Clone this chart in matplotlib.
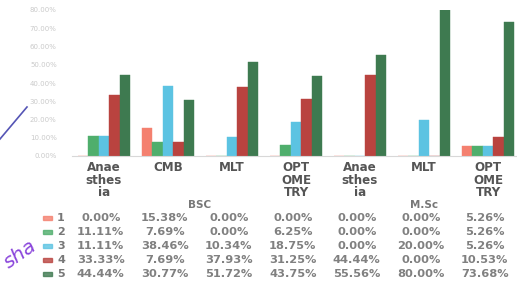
import numpy as np
import matplotlib
matplotlib.use("Agg")
from matplotlib import pyplot as plt
from matplotlib.transforms import blended_transform_factory

# chart data
courses = ["Anae\nsthes\nia", "CMB", "MLT", "OPT\nOME\nTRY", "Anae\nsthes\nia", "MLT", "OPT\nOME\nTRY"]
groups = ["BSC", "M.Sc"]
group_span = [(0, 3), (4, 6)]
series = ["1", "2", "3", "4", "5"]
s1 = [0.00, 15.38, 0.00, 0.00, 0.00, 0.00, 5.26]
s2 = [11.11, 7.69, 0.00, 6.25, 0.00, 0.00, 5.26]
s3 = [11.11, 38.46, 10.34, 18.75, 0.00, 20.00, 5.26]
s4 = [33.33, 7.69, 37.93, 31.25, 44.44, 0.00, 10.53]
s5 = [44.44, 30.77, 51.72, 43.75, 55.56, 80.00, 73.68]
colors = ["#f4806f", "#4fae6c", "#5cc3e2", "#b9433f", "#3e7a50"]

W, H = 517, 284
fig = plt.figure(figsize=(W / 100, H / 100), dpi=100)
fig.patch.set_facecolor("white")

# axes placed in pixel terms: x 72..520, y 10..156
ax = fig.add_axes([72 / W, (H - 156) / H, 448 / W, 146 / H])
x = np.arange(len(courses))
bw = 0.165
data = [s1, s2, s3, s4, s5]
for i, vals in enumerate(data):
    ax.bar(x + (i - 2) * bw, vals, bw, color=colors[i], edgecolor=colors[i], linewidth=0.3)

ax.set_xlim(-0.5, len(courses) - 0.5)
ax.set_ylim(0, 80)
ax.set_yticks(np.arange(0, 81, 10))
ax.set_yticklabels(["%.2f%%" % v for v in np.arange(0, 81, 10)], fontsize=5, color="#cacaca")
ax.tick_params(axis="y", length=0, pad=11)
ax.set_xticks([])
for sp in ["top", "right", "left"]:
    ax.spines[sp].set_visible(False)
ax.spines["bottom"].set_color("#d8d8d8")
ax.spines["bottom"].set_linewidth(0.8)

tr = blended_transform_factory(ax.transData, fig.transFigure)
def fy(py):
    return 1 - py / H

# category labels
for i, lab in enumerate(courses):
    ax.text(i, fy(161), lab, transform=tr, ha="center", va="top", fontsize=8.6,
            fontweight="bold", color="#555555", linespacing=0.95)

# group labels
for g, (a, b) in zip(groups, group_span):
    ax.text((a + b) / 2, fy(205), g, transform=tr, ha="center", va="center",
            fontsize=7.5, fontweight="bold", color="#777777")

# data table rows
row_y = [218, 232, 246, 260, 274]
for i, vals in enumerate(data):
    yy = fy(row_y[i])
    fig.patches.append(plt.Rectangle((43 / W, yy - 1.6 / H), 9 / W, 3.2 / H,
                                     transform=fig.transFigure, color=colors[i], alpha=0.8))
    fig.text(61 / W, yy, series[i], ha="center", va="center", fontsize=8,
             fontweight="bold", color="#777777")
    for j, v in enumerate(vals):
        ax.text(j - 0.05, yy, "%.2f%%" % v, transform=tr, ha="center", va="center",
                fontsize=8.2, fontweight="bold", color="#808080")

# handwritten mark and pen stroke on the scan
fig.text(0 / W, fy(272), "sha", fontsize=14.5, style="italic", color="#8a45db",
         rotation=35, ha="left", va="bottom")
fig.lines.append(plt.Line2D([0, 27 / W], [fy(139), fy(107)], transform=fig.transFigure,
                            color="#5555b5", linewidth=1.2))

fig.savefig("out.png", dpi=100)
